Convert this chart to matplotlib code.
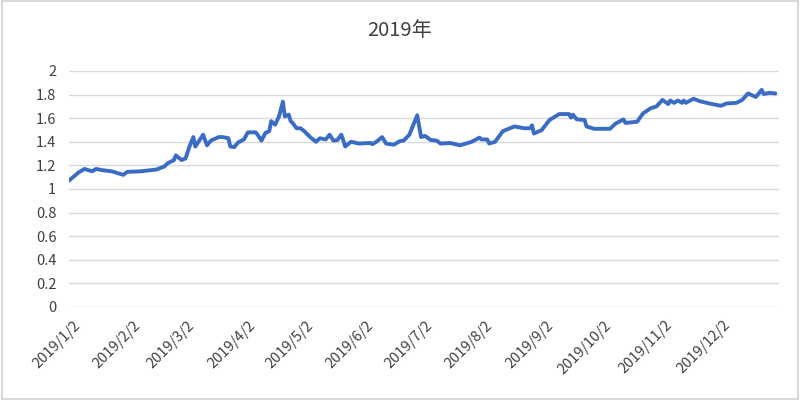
import matplotlib.pyplot as plt
import matplotlib.transforms as mtransforms
import numpy as np
import pandas as pd

plt.rcParams['font.family'] = ['Noto Sans CJK SC', 'DejaVu Sans']

dates = [
    "2019-01-02", "2019-01-07", "2019-01-10", "2019-01-14", "2019-01-16", "2019-01-19",
    "2019-01-24", "2019-01-28", "2019-01-30", "2019-02-01", "2019-02-08", "2019-02-16",
    "2019-02-20", "2019-02-22", "2019-02-25", "2019-02-26", "2019-03-01", "2019-03-03",
    "2019-03-05", "2019-03-07", "2019-03-08", "2019-03-12", "2019-03-14", "2019-03-16",
    "2019-03-20", "2019-03-22", "2019-03-25", "2019-03-26", "2019-03-28", "2019-03-30",
    "2019-04-02", "2019-04-04", "2019-04-08", "2019-04-09", "2019-04-11", "2019-04-13",
    "2019-04-15", "2019-04-16", "2019-04-18", "2019-04-20", "2019-04-22", "2019-04-23",
    "2019-04-25", "2019-04-26", "2019-04-27", "2019-04-29", "2019-05-01", "2019-05-03",
    "2019-05-06", "2019-05-09", "2019-05-11", "2019-05-14", "2019-05-16", "2019-05-18",
    "2019-05-20", "2019-05-22", "2019-05-23", "2019-05-24", "2019-05-27", "2019-05-31",
    "2019-06-06", "2019-06-07", "2019-06-09", "2019-06-12", "2019-06-14", "2019-06-18",
    "2019-06-21", "2019-06-23", "2019-06-26", "2019-06-30", "2019-07-02", "2019-07-04",
    "2019-07-07", "2019-07-10", "2019-07-12", "2019-07-17", "2019-07-22", "2019-07-25",
    "2019-07-28", "2019-08-01", "2019-08-02", "2019-08-05", "2019-08-06", "2019-08-09",
    "2019-08-13", "2019-08-19", "2019-08-24", "2019-08-27", "2019-08-28", "2019-08-29",
    "2019-09-02", "2019-09-06", "2019-09-11", "2019-09-16", "2019-09-17", "2019-09-18",
    "2019-09-20", "2019-09-24", "2019-09-25", "2019-09-29", "2019-10-07", "2019-10-10",
    "2019-10-14", "2019-10-15", "2019-10-21", "2019-10-24", "2019-10-28", "2019-10-31",
    "2019-11-03", "2019-11-06", "2019-11-07", "2019-11-09", "2019-11-11", "2019-11-13",
    "2019-11-14", "2019-11-15", "2019-11-19", "2019-11-22", "2019-11-27", "2019-12-03",
    "2019-12-06", "2019-12-11", "2019-12-14", "2019-12-17", "2019-12-21", "2019-12-24",
    "2019-12-25", "2019-12-28", "2019-12-31",
]
values = [
    1.07, 1.14, 1.17, 1.15, 1.17, 1.16,
    1.15, 1.13, 1.12, 1.145, 1.15, 1.165,
    1.19, 1.22, 1.245, 1.285, 1.245, 1.26,
    1.36, 1.44, 1.36, 1.46, 1.37, 1.41,
    1.44, 1.44, 1.43, 1.36, 1.355, 1.395,
    1.42, 1.48, 1.48, 1.46, 1.41, 1.475,
    1.49, 1.575, 1.545, 1.615, 1.74, 1.615,
    1.63, 1.575, 1.56, 1.515, 1.515, 1.49,
    1.44, 1.40, 1.43, 1.42, 1.46, 1.41,
    1.415, 1.46, 1.415, 1.36, 1.40, 1.385,
    1.39, 1.38, 1.40, 1.44, 1.385, 1.375,
    1.405, 1.41, 1.46, 1.625, 1.44, 1.45,
    1.415, 1.41, 1.385, 1.39, 1.37, 1.385,
    1.40, 1.435, 1.42, 1.42, 1.385, 1.40,
    1.49, 1.53, 1.515, 1.515, 1.54, 1.47,
    1.50, 1.585, 1.635, 1.635, 1.605, 1.63,
    1.59, 1.585, 1.53, 1.51, 1.51, 1.555,
    1.59, 1.56, 1.57, 1.64, 1.685, 1.70,
    1.755, 1.72, 1.75, 1.73, 1.75, 1.73,
    1.75, 1.73, 1.765, 1.745, 1.725, 1.705,
    1.725, 1.73, 1.755, 1.81, 1.78, 1.84,
    1.805, 1.815, 1.81,
]
tick_dates = ["2019-%02d-02" % m for m in range(1, 13)]
tick_labels = ["2019/%d/2" % m for m in range(1, 13)]
y_ticks = [0, 0.2, 0.4, 0.6, 0.8, 1, 1.2, 1.4, 1.6, 1.8, 2]
y_labels = ["0", "0.2", "0.4", "0.6", "0.8", "1", "1.2", "1.4", "1.6", "1.8", "2"]

x = pd.to_datetime(dates)
grey = "#404040"

fig = plt.figure(figsize=(8, 4), dpi=100)
ax = fig.add_axes([0.086, 0.2325, 0.888, 0.59])
ax.plot(x, values, color="#3a6cc6", lw=2.8, solid_joinstyle="round",
        solid_capstyle="round", zorder=3)

ax.set_xlim(pd.Timestamp("2019-01-02"), pd.Timestamp("2019-12-31") + pd.Timedelta(days=2))
ax.set_ylim(0, 2)
ax.set_yticks(y_ticks)
ax.set_yticklabels(y_labels)
ax.set_xticks(pd.to_datetime(tick_dates))
ax.set_xticklabels(tick_labels, rotation=45, ha="right", rotation_mode="anchor")
ax.tick_params(axis="both", length=0, colors=grey, labelsize=10.5)
ax.tick_params(axis="x", pad=8)
ax.tick_params(axis="y", pad=9)
shift = mtransforms.ScaledTranslation(4 / 100, 0, fig.dpi_scale_trans)
for lab in ax.get_xticklabels():
    lab.set_transform(lab.get_transform() + shift)
ax.grid(axis="y", color="#d9d9d9", lw=1)
for s in ax.spines.values():
    s.set_visible(False)

fig.text(0.5, 0.925, "2019年", ha="center", va="center", fontsize=14.5, color="#404040")
fig.patches.append(plt.Rectangle((0.002, 0.003), 0.996, 0.994, transform=fig.transFigure,
                                 fill=False, edgecolor="#d9d9d9", lw=1.5))

fig.savefig("out.png", dpi=100)
